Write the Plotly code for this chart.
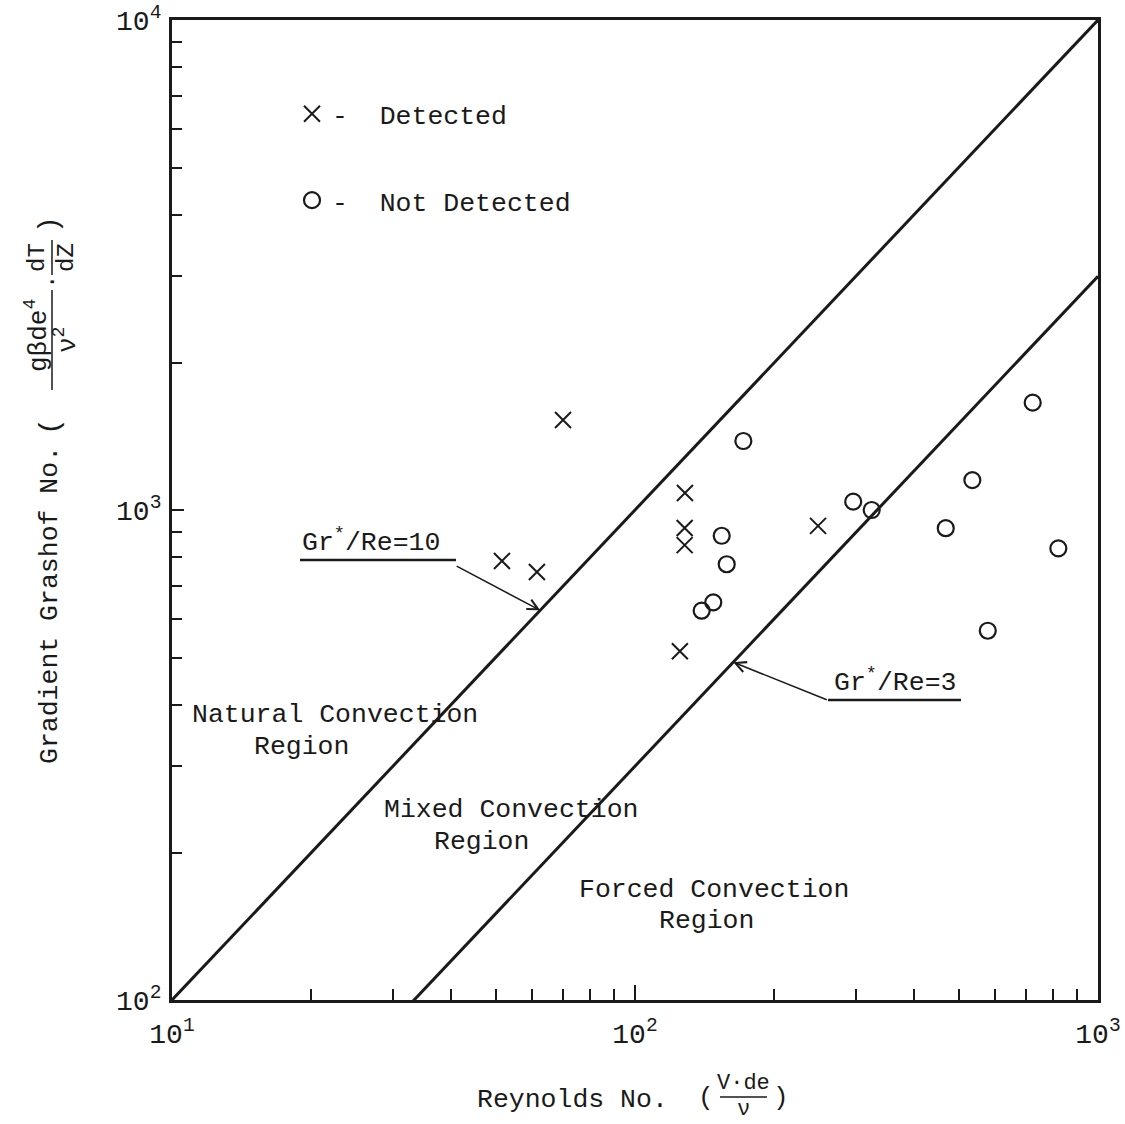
import numpy as np
import plotly.graph_objects as go

# ---------------- data ----------------
det_re = [69.9, 51.6, 61.4, 128.2, 128.0, 128.0, 125.0, 248.5]
det_gr = [1527, 787, 747, 1083, 919, 848, 515, 928]

nd_re = [171.4, 153.9, 157.8, 147.6, 139.3, 296.0, 324.5, 722.7, 535.3, 469.0, 821.0, 578.0]
nd_gr = [1383, 886, 775, 648, 623, 1040, 1000, 1656, 1151, 918, 835, 567]

ratios = [10, 3]
ratio_labels = ["Gr<sup>*</sup>/Re=10", "Gr<sup>*</sup>/Re=3"]
re_span = [10, 1000]

x_tickvals = [10, 100, 1000]
x_ticktext = ["10<sup>1</sup>", "10<sup>2</sup>", "10<sup>3</sup>"]
y_tickvals = [100, 1000, 10000]
y_ticktext = ["10<sup>2</sup>", "10<sup>3</sup>", "10<sup>4</sup>"]
x_minor = [20, 30, 40, 50, 60, 70, 80, 90, 200, 300, 400, 500, 600, 700, 800, 900]
y_minor = [200, 300, 400, 500, 600, 700, 800, 900, 2000, 3000, 4000, 5000, 6000, 7000, 8000, 9000]

# ---------------- layout constants ----------------
W, H = 1125, 1124
L, R, T, B = 172, 1098, 20, 1000
FONT = "Liberation Mono"
FS = 26.5
INK = "#1a1a1a"


def px(x):
    return (x - L) / (R - L)


def py(y):
    return (B - y) / (B - T)


fig = go.Figure()

# ratio lines
for r in ratios:
    fig.add_trace(go.Scatter(
        x=re_span, y=[r * v for v in re_span], mode="lines",
        line=dict(color=INK, width=3), showlegend=False, hoverinfo="skip"))

fig.add_trace(go.Scatter(
    x=det_re, y=det_gr, mode="markers", name="-  Detected",
    legendgroup="a",
    marker=dict(symbol="x-thin-open", size=16, color=INK, line=dict(width=2, color=INK))))
fig.add_trace(go.Scatter(
    x=nd_re, y=nd_gr, mode="markers", name="-  Not Detected",
    legendgroup="b",
    marker=dict(symbol="circle-open", size=16, color=INK, line=dict(width=2.2, color=INK))))

ann = []
shapes = []


def text(x, y, s, anchor="left", size=FS, angle=0, yanchor="middle"):
    ann.append(dict(xref="paper", yref="paper", x=px(x), y=py(y), text=s,
                    showarrow=False, xanchor=anchor, yanchor=yanchor, textangle=angle,
                    font=dict(family=FONT, size=size, color=INK)))


def seg(x0, y0, x1, y1, w=2.5):
    shapes.append(dict(type="line", xref="paper", yref="paper",
                       x0=px(x0), y0=py(y0), x1=px(x1), y1=py(y1),
                       line=dict(color=INK, width=w)))


# region labels
text(190, 715, "Natural Convection")
text(252, 747, "Region")
text(382, 810, "Mixed Convection")
text(432, 842, "Region")
text(577, 890, "Forced Convection")
text(657, 921, "Region")

# ratio line labels with underline + leader arrow
text(300, 541, ratio_labels[0])
seg(300, 560, 456, 560)
text(832, 681, ratio_labels[1])
seg(828, 700, 961, 700)

tip1_re = 62.4
tip2_re = 163.0
ann.append(dict(x=np.log10(tip1_re), y=np.log10(ratios[0] * tip1_re), xref="x", yref="y",
                ax=-85, ay=-45, text="", showarrow=True, arrowhead=5, arrowsize=1.3,
                arrowwidth=1.6, arrowcolor=INK, standoff=0))
ann.append(dict(x=np.log10(tip2_re), y=np.log10(ratios[1] * tip2_re), xref="x", yref="y",
                ax=95, ay=38, text="", showarrow=True, arrowhead=5, arrowsize=1.3,
                arrowwidth=1.6, arrowcolor=INK, standoff=0))

# x-axis title with fraction
text(475, 1100, "Reynolds No.")
text(706, 1098, "(", anchor="center", size=26)
text(743, 1083, "V·de", anchor="center", size=22)
seg(720, 1097, 767, 1097, w=1.5)
text(743, 1109, "ν", anchor="center", size=22)
text(781, 1098, ")", anchor="center", size=26)

# y-axis title with fractions (rotated)
text(50, 605, "Gradient Grashof No.", anchor="center", angle=-90)
text(50, 427, "(", anchor="center", angle=-90, size=28)
text(37, 336, "gβde<sup>4</sup>", anchor="center", angle=-90, size=26)
seg(52, 390, 52, 290, w=1.5)
text(66, 340, "ν<sup>2</sup>", anchor="center", angle=-90, size=26)
text(52, 282, "·", anchor="center", angle=-90, size=24)
text(37, 258, "dT", anchor="center", angle=-90, size=24)
seg(52, 275, 52, 240, w=1.5)
text(66, 258, "dZ", anchor="center", angle=-90, size=24)
text(50, 225, ")", anchor="center", angle=-90, size=28)

axis_common = dict(
    type="log", showline=True, linecolor=INK, linewidth=3, mirror=True,
    ticks="inside", tickwidth=1.5, tickcolor=INK, showgrid=False, zeroline=False,
    automargin=False,
    tickfont=dict(family=FONT, size=28, color=INK),
)

fig.update_layout(
    width=W, height=H,
    margin=dict(l=L, r=W - R, t=T, b=H - B, pad=0, autoexpand=False),
    paper_bgcolor="white", plot_bgcolor="white",
    xaxis=dict(range=[1, 3], tickvals=x_tickvals, ticktext=x_ticktext, ticklen=15,
               minor=dict(tickvals=x_minor, ticks="inside", ticklen=11, tickwidth=1.5,
                          tickcolor=INK, showgrid=False),
               ticklabelstandoff=6, **axis_common),
    yaxis=dict(range=[2, 4], tickvals=y_tickvals, ticktext=y_ticktext, ticklen=12,
               minor=dict(tickvals=y_minor, ticks="inside", ticklen=10, tickwidth=1.5,
                          tickcolor=INK, showgrid=False),
               ticklabelstandoff=2, **axis_common),
    showlegend=True,
    legend=dict(x=px(292), y=py(90), xanchor="left", yanchor="top",
                bgcolor="rgba(0,0,0,0)", borderwidth=0, tracegroupgap=49,
                traceorder="grouped",
                font=dict(family=FONT, size=FS, color=INK)),
    annotations=ann, shapes=shapes,
)

fig.write_html("out.html")
